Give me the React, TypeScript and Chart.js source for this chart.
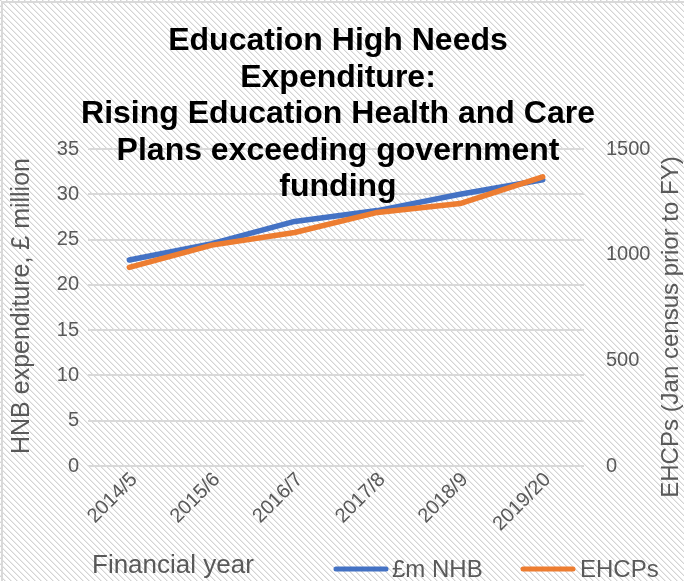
import React, { useEffect, useRef } from "react";
import { Chart, registerables } from "chart.js";

Chart.register(...registerables);

const categories = ["2014/5", "2015/6", "2016/7", "2017/8", "2018/9", "2019/20"];
const hnbSpend = [22.75, 24.55, 27.0, 28.2, 30.0, 31.6];
const ehcps = [940, 1045, 1105, 1200, 1242, 1368];
const leftMin = 0;
const leftMax = 35;
const leftStep = 5;
const rightMin = 0;
const rightMax = 1500;
const rightStep = 500;
const titleLines = [
  "Education High Needs",
  "Expenditure:",
  "Rising Education Health and Care",
  "Plans exceeding government",
  "funding",
];
const seriesNames = ["£m NHB", "EHCPs"];
const xTitle = "Financial year";
const yTitle = "HNB expenditure, £ million";
const y1Title = "EHCPs (Jan census prior to FY)";

const W = 684;
const H = 581;
const FONT = "'Liberation Sans', Arial, sans-serif";
const GREY = "#595959";
const BLUE = "#4472C4";
const ORANGE = "#ED7D31";

const bgPlugin = {
  id: "bgHatch",
  beforeDraw(chart: any) {
    const ctx = chart.ctx;
    ctx.save();
    ctx.fillStyle = "#ffffff";
    ctx.fillRect(0, 0, W, H);
    const tile = document.createElement("canvas");
    tile.width = 6;
    tile.height = 6;
    const t = tile.getContext("2d")!;
    t.fillStyle = "#d4d4d4";
    for (let i = 0; i < 6; i++) t.fillRect(i, i, 1, 1);
    t.fillStyle = "#ececec";
    for (let i = 0; i < 6; i++) t.fillRect((i + 1) % 6, i, 1, 1);
    const pat = ctx.createPattern(tile, "repeat");
    if (pat) {
      ctx.fillStyle = pat;
      ctx.fillRect(0, 0, W, H);
    }
    ctx.strokeStyle = "#d9d9d9";
    ctx.lineWidth = 2;
    ctx.strokeRect(2, 2, W + 4, H + 4);
    ctx.restore();
  },
};

const textPlugin = {
  id: "texts",
  afterDraw(chart: any) {
    const ctx = chart.ctx;
    ctx.save();
    // Title
    ctx.fillStyle = "#000000";
    ctx.font = `bold 32px ${FONT}`;
    ctx.textAlign = "center";
    ctx.textBaseline = "alphabetic";
    titleLines.forEach((line, i) => {
      ctx.fillText(line, 338, 50 + i * 36.5);
    });
    // Left axis title
    ctx.fillStyle = GREY;
    ctx.font = `25px ${FONT}`;
    ctx.save();
    ctx.translate(22, 306);
    ctx.rotate(-Math.PI / 2);
    ctx.textAlign = "center";
    ctx.textBaseline = "middle";
    ctx.fillText(yTitle, 0, 0);
    ctx.restore();
    // Right axis title
    ctx.font = `24px ${FONT}`;
    ctx.save();
    ctx.translate(671, 327);
    ctx.rotate(-Math.PI / 2);
    ctx.textAlign = "center";
    ctx.textBaseline = "middle";
    ctx.fillText(y1Title, 0, 0);
    ctx.restore();
    // X axis title
    ctx.font = `26px ${FONT}`;
    ctx.textAlign = "left";
    ctx.textBaseline = "alphabetic";
    ctx.fillText(xTitle, 92, 573);
    // Legend
    const items = [
      { name: seriesNames[0], color: BLUE, x0: 336, x1: 386, tx: 392 },
      { name: seriesNames[1], color: ORANGE, x0: 523, x1: 573, tx: 580 },
    ];
    ctx.font = `24px ${FONT}`;
    items.forEach((it) => {
      ctx.strokeStyle = it.color;
      ctx.lineWidth = 5;
      ctx.lineCap = "round";
      ctx.beginPath();
      ctx.moveTo(it.x0, 569);
      ctx.lineTo(it.x1, 569);
      ctx.stroke();
      ctx.fillStyle = GREY;
      ctx.fillText(it.name, it.tx, 577);
    });
    ctx.restore();
  },
};

export default function App() {
  const ref = useRef<HTMLCanvasElement | null>(null);
  useEffect(() => {
    if (!ref.current) return;
    const chart = new Chart(ref.current, {
      type: "line",
      data: {
        labels: categories,
        datasets: [
          {
            label: seriesNames[0],
            data: hnbSpend,
            borderColor: BLUE,
            backgroundColor: BLUE,
            borderWidth: 5.5,
            pointRadius: 0,
            tension: 0,
            borderCapStyle: "round",
            borderJoinStyle: "round",
            yAxisID: "y",
            order: 1,
          },
          {
            label: seriesNames[1],
            data: ehcps,
            borderColor: ORANGE,
            backgroundColor: ORANGE,
            borderWidth: 5.5,
            pointRadius: 0,
            tension: 0,
            borderCapStyle: "round",
            borderJoinStyle: "round",
            yAxisID: "y1",
            order: 0,
          },
        ],
      },
      options: {
        responsive: false,
        animation: false,
        devicePixelRatio: 1,
        layout: { padding: { top: 149, left: 0, right: 0, bottom: 0 } },
        plugins: {
          legend: { display: false },
          title: { display: false },
          tooltip: { enabled: false },
        },
        scales: {
          x: {
            type: "category",
            offset: true,
            grid: { display: false },
            border: { display: false },
            ticks: {
              minRotation: 45,
              maxRotation: 45,
              autoSkip: false,
              color: GREY,
              font: { size: 20, family: FONT },
              padding: -6,
              labelOffset: 5,
            },
            afterFit(s: any) {
              s.height = 115;
            },
          },
          y: {
            position: "left",
            min: leftMin,
            max: leftMax,
            ticks: {
              stepSize: leftStep,
              color: GREY,
              font: { size: 20, family: FONT },
              padding: 9,
              callback: (v: any) => String(v),
            },
            grid: { color: "#d9d9d9", lineWidth: 2, drawTicks: false },
            border: { display: false },
            afterFit(s: any) {
              s.width = 88;
            },
          },
          y1: {
            position: "right",
            min: rightMin,
            max: rightMax,
            ticks: {
              stepSize: rightStep,
              color: GREY,
              font: { size: 20, family: FONT },
              padding: 22,
              callback: (v: any) => String(v),
            },
            grid: { display: false, drawTicks: false },
            border: { display: false },
            afterFit(s: any) {
              s.width = 100;
            },
          },
        },
      },
      plugins: [bgPlugin, textPlugin],
    } as any);
    return () => chart.destroy();
  }, []);
  return (
    <div style={{ position: "absolute", left: 0, top: 0, width: W, height: H }}>
      <canvas ref={ref} width={W} height={H} style={{ display: "block", width: W, height: H }} />
    </div>
  );
}
